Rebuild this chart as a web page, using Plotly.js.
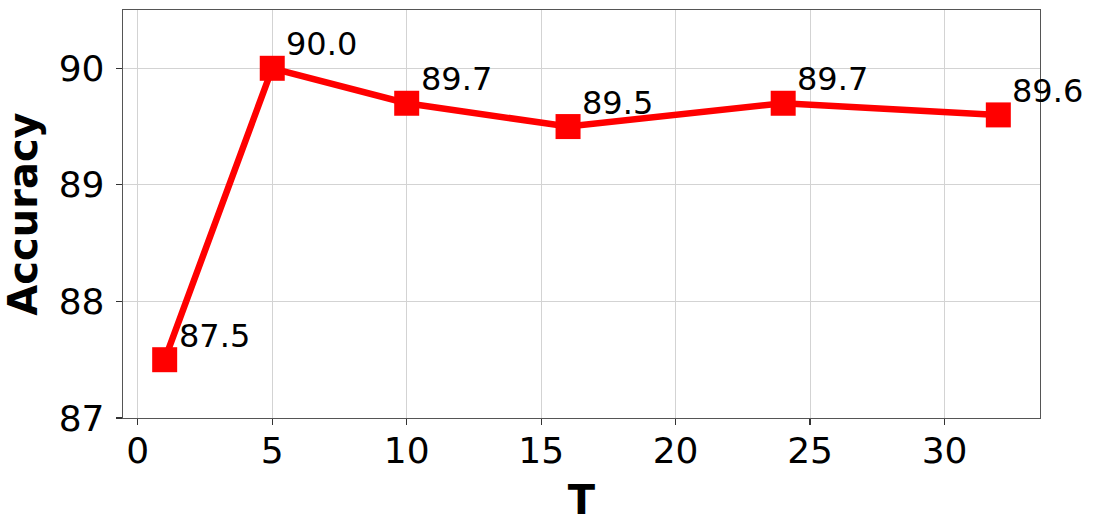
<!DOCTYPE html>
<html>
<head>
<meta charset="utf-8">
<script src="https://cdn.plot.ly/plotly-3.0.1.min.js"></script>
<style>html,body{margin:0;padding:0;background:#fff;}#chart{width:1096px;height:530px;}</style>
</head>
<body>
<div id="chart"></div>
<script>
const tValues = [1, 5, 10, 16, 24, 32];
const accuracy = [87.5, 90.0, 89.7, 89.5, 89.7, 89.6];
const pointLabels = ["87.5", "90.0", "89.7", "89.5", "89.7", "89.6"];
const xTicks = [0, 5, 10, 15, 20, 25, 30];
const yTicks = [87, 88, 89, 90];

const font = "DejaVu Sans, sans-serif";

const trace = {
  x: tValues,
  y: accuracy,
  mode: "lines+markers",
  type: "scatter",
  line: {color: "#ff0000", width: 6.5},
  marker: {symbol: "square", size: 25, color: "#ff0000"},
  hoverinfo: "none",
  showlegend: false
};

// invisible companion trace so the tick-only x axis is drawn
const tickTrace = {
  x: tValues, y: accuracy, xaxis: "x2", yaxis: "y",
  mode: "markers", marker: {opacity: 0}, hoverinfo: "none", showlegend: false
};

const annotations = tValues.map((t, i) => ({
  x: t, y: accuracy[i], xref: "x", yref: "y",
  text: pointLabels[i], showarrow: false,
  xanchor: "left", yanchor: "middle",
  xshift: 12, yshift: 24,
  font: {family: font, size: 32, color: "#000"}
}));

const axisCommon = {
  showline: true, mirror: true, linecolor: "#555", linewidth: 1.3,
  showgrid: true, gridcolor: "#d3d3d3", gridwidth: 1,
  ticks: "outside", ticklen: 6, tickwidth: 1.2, tickcolor: "#333",
  zeroline: false,
  tickfont: {family: font, size: 36, color: "#000"}
};

const layout = {
  width: 1096, height: 530,
  margin: {l: 123, r: 56, t: 10, b: 112},
  paper_bgcolor: "#fff", plot_bgcolor: "#fff",
  xaxis: Object.assign({}, axisCommon, {
    range: [-0.55, 33.55], tickvals: xTicks, ticks: "", ticklen: 0,
    title: {text: "<b>T</b>", font: {family: font, size: 40, color: "#000"}, standoff: 16}
  }),
  xaxis2: {
    overlaying: "x", matches: "x", side: "bottom",
    range: [-0.55, 33.55], tickvals: xTicks,
    ticks: "outside", ticklen: 6, tickwidth: 1.2, tickcolor: "#333",
    showticklabels: false, showgrid: false, showline: false, zeroline: false
  },
  yaxis: Object.assign({}, axisCommon, {
    range: [87, 90.5], tickvals: yTicks, ticklabelstandoff: 4,
    title: {text: "<b>Accuracy</b>", font: {family: font, size: 40, color: "#000"}, standoff: 11}
  }),
  annotations: annotations
};

Plotly.newPlot("chart", [trace, tickTrace], layout, {staticPlot: true, displayModeBar: false});
</script>
</body>
</html>
